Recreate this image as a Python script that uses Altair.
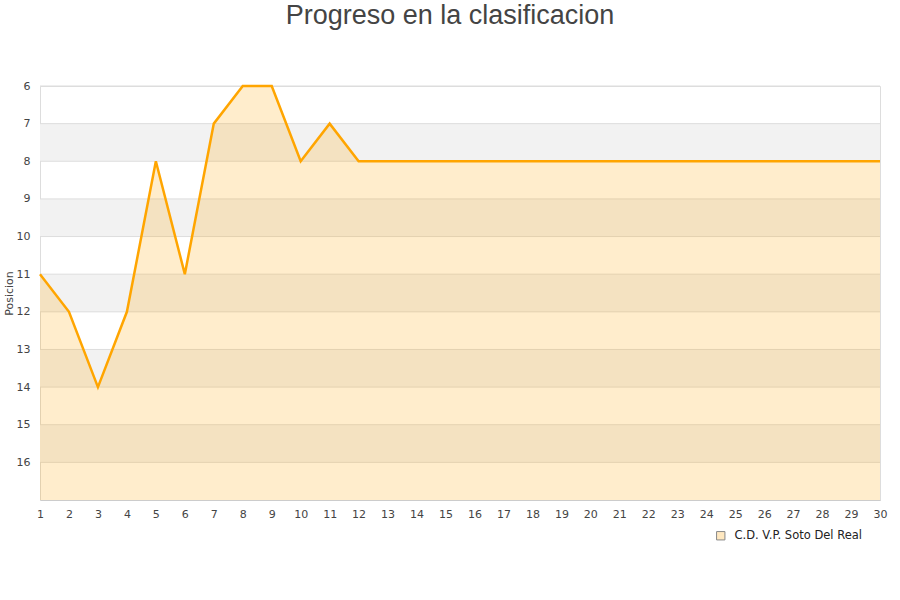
import altair as alt
import pandas as pd

# Round-by-round league position
jornadas = list(range(1, 31))
posiciones = [11, 12, 14, 12, 8, 11, 7, 6, 6, 8, 7, 8] + [8] * 18
equipo = "C.D. V.P. Soto Del Real"

# Alternating shaded bands and grid levels on the position axis
band_starts = [7, 9, 11, 13, 15]
grid_levels = list(range(6, 17))
y_ticks = list(range(6, 17))
y_bottom = 17

df = pd.DataFrame({"jornada": jornadas, "posicion": posiciones, "equipo": equipo})
bands = pd.DataFrame({"y": band_starts, "y2": [b + 1 for b in band_starts]})
grid = pd.DataFrame({"y": grid_levels})

label_font = "DejaVu Sans"

y_scale = alt.Scale(domain=[6, y_bottom], reverse=True, nice=False, zero=False)
x_scale = alt.Scale(domain=[1, 30], nice=False, zero=False)

y_axis = alt.Axis(values=y_ticks, title="Posicion", grid=False, ticks=False,
                  domain=False, labelPadding=10, labelFont=label_font,
                  labelFontSize=11, labelColor="#444", titleFont=label_font,
                  titleFontSize=11, titleFontWeight="normal", titleColor="#444",
                  titlePadding=2)

x_axis = alt.Axis(values=jornadas, title=None, grid=False, ticks=False,
                  domainColor="#CCCCCC", labelPadding=8, labelFont=label_font,
                  labelFontSize=11, labelColor="#444", labelAngle=0,
                  labelOverlap=False, labelFlush=False)

band_layer = alt.Chart(bands).mark_rect(fill="#F2F2F2").encode(
    y=alt.Y("y:Q", scale=y_scale, axis=y_axis),
    y2="y2:Q",
    x=alt.value(0),
    x2=alt.value(840),
)

grid_layer = alt.Chart(grid).mark_rule(color="#DDDDDD", strokeWidth=1).encode(
    y=alt.Y("y:Q", scale=y_scale, axis=y_axis),
    x=alt.value(0),
    x2=alt.value(840),
)

area_layer = alt.Chart(df).mark_area(color="#FFA500", opacity=0.2, line=False).encode(
    x=alt.X("jornada:Q", scale=x_scale, axis=x_axis),
    y=alt.Y("posicion:Q", scale=y_scale, axis=y_axis),
    y2=alt.datum(y_bottom),
)

line_layer = alt.Chart(df).mark_line(color="#FFA500", strokeWidth=2.5).encode(
    x=alt.X("jornada:Q", scale=x_scale, axis=x_axis),
    y=alt.Y("posicion:Q", scale=y_scale, axis=y_axis),
)

# Invisible points that carry the team legend
legend_layer = alt.Chart(df).mark_square(opacity=0, size=1).encode(
    x=alt.X("jornada:Q", scale=x_scale, axis=x_axis),
    y=alt.Y("posicion:Q", scale=y_scale, axis=y_axis),
    color=alt.Color("equipo:N", scale=alt.Scale(range=["#FFE8C0"]),
                    legend=alt.Legend(title=None, orient="none", legendX=675, legendY=444,
                                      symbolType="square", symbolSize=70,
                                      symbolOpacity=1, symbolStrokeColor="#888888",
                                      symbolStrokeWidth=1, labelOffset=8,
                                      labelFont=label_font, labelFontSize=11.5,
                                      labelColor="#222")),
)

chart = alt.layer(band_layer, grid_layer, area_layer, line_layer, legend_layer).properties(
    width=840,
    height=414,
    title=alt.Title("Progreso en la clasificacion", font="Liberation Sans", fontSize=27,
                    fontWeight="normal", color="#444", anchor="middle", offset=50, dx=-10),
    autosize=alt.AutoSizeParams(type="none"),
    padding={"left": 40, "top": 86, "right": 20, "bottom": 100},
).configure_view(stroke="#DDDDDD", strokeWidth=1).configure(background="white")

chart.save("out.html", embed_options={"renderer": "svg", "actions": False})
